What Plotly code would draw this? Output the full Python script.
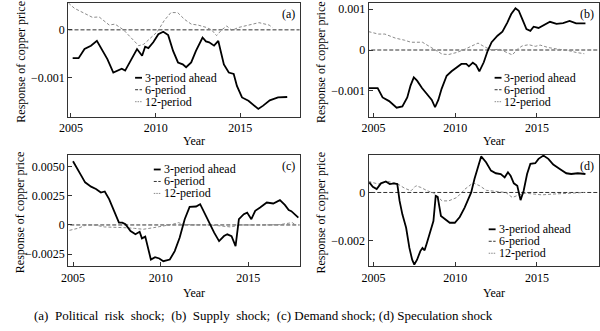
import plotly.graph_objects as go

W, H = 600, 331
FONT = "'Liberation Serif', 'Times New Roman', Times, serif"

# ---------------- data ----------------
# Panel (a) Political risk shock
a3_x = [2005.1, 2005.45, 2005.8, 2006.18, 2006.53, 2006.76, 2007.15, 2007.5, 2007.73, 2008.0, 2008.2,
        2008.5, 2008.9, 2009.2, 2009.38, 2009.57, 2009.86, 2010.16, 2010.45, 2010.74, 2011.03, 2011.32,
        2011.6, 2011.8, 2012.1, 2012.38, 2012.77, 2012.97, 2013.16, 2013.45, 2013.7, 2013.84, 2014.03,
        2014.32, 2014.61, 2014.8, 2015.1, 2015.48, 2016.06, 2016.35, 2016.74, 2017.23, 2017.77]
a3_y = [-0.00059, -0.00059, -0.0004, -0.00033, -0.00023, -0.00037, -0.00061, -0.00089, -0.00085, -0.00081,
        -0.00085, -0.00065, -0.0004, -0.00054, -0.00035, -0.00038, -0.00026, -0.00009, -0.00004, -0.00011,
        -0.00044, -0.00068, -0.00072, -0.00078, -0.00068, -0.00044, -0.00016, -0.00024, -0.00026, -0.00033,
        -0.00023, -0.00044, -0.00072, -0.00089, -0.00092, -0.00117, -0.00141, -0.00148, -0.00165, -0.00158,
        -0.00147, -0.00141, -0.0014]
a12_x = [2004.85, 2005.2, 2006.27, 2006.66, 2007.26, 2007.6, 2008.1, 2008.55, 2009.0, 2009.3, 2009.6,
         2010.1, 2010.5, 2010.9, 2011.3, 2011.7, 2012.1, 2012.5, 2013.0, 2013.3, 2013.6, 2013.9, 2014.2,
         2014.5, 2014.9, 2015.5, 2016.1, 2016.7, 2016.9]
a12_y = [0.00056, 0.00045, 0.00026, 0.00027, 0.0001, 0.00012, 0.0, -0.00016, -0.00033, -0.0003, -0.0002,
         -0.00004, 0.00019, 0.00036, 0.00036, 0.00022, 0.00012, 0.0001, 0.00005, 0.0, -0.00012, 0.0,
         0.00008, -0.00001, 0.00005, 0.0001, 0.00015, 0.0001, 0.00005]

# Panel (b) Supply shock
b3_x = [2004.7, 2005.26, 2005.56, 2005.96, 2006.42, 2006.77, 2007.07, 2007.27, 2007.47, 2007.67, 2007.97,
        2008.27, 2008.57, 2008.77, 2008.97, 2009.17, 2009.48, 2009.78, 2010.08, 2010.38, 2010.68, 2010.84,
        2011.08, 2011.28, 2011.48, 2011.75, 2011.99, 2012.23, 2012.59, 2012.89, 2013.19, 2013.43, 2013.69,
        2013.89, 2014.1, 2014.36, 2014.6, 2014.8, 2015.1, 2015.5, 2015.8, 2016.2, 2016.6, 2017.0, 2017.4,
        2017.97]
b3_y = [-0.00093, -0.00093, -0.00116, -0.00125, -0.00141, -0.00138, -0.00116, -0.00087, -0.00067, -0.00075,
        -0.00093, -0.00107, -0.00122, -0.0014, -0.00122, -0.00095, -0.00063, -0.00052, -0.00042, -0.00034,
        -0.00034, -0.0004, -0.00031, -0.00037, -0.00052, -0.0003, -0.00002, 0.00019, 0.00035, 0.00045,
        0.00067, 0.00088, 0.00102, 0.00096, 0.00076, 0.00051, 0.00047, 0.00057, 0.00054, 0.00062, 0.00069,
        0.00064, 0.00066, 0.00071, 0.00065, 0.00065]
b12_x = [2004.7, 2005.3, 2005.7, 2006.35, 2006.9, 2007.3, 2008.0, 2008.7, 2009.2, 2009.6, 2010.1, 2010.6,
         2011.0, 2011.4, 2011.7, 2012.2, 2012.7, 2013.2, 2013.5, 2013.8, 2014.1, 2014.5, 2014.9, 2015.2,
         2015.7, 2016.3, 2016.9, 2017.4, 2017.9]
b12_y = [0.00045, 0.00039, 0.00039, 0.00029, 0.00024, 0.00019, 0.00019, 0.00002, -0.0001, -0.00011,
         -0.00006, 0.00002, 0.0001, 0.00017, 0.0001, 0.0, 0.00002, -0.00006, -0.00012, 0.00002, 0.0001,
         0.00013, 0.00009, 0.00012, 0.00006, 0.00002, -0.00001, -0.00006, -0.00009]

# Panel (c) Demand shock
c3_x = [2005.0, 2005.28, 2005.47, 2005.69, 2006.03, 2006.31, 2006.59, 2006.81, 2007.06, 2007.34, 2007.62,
        2007.81, 2007.99, 2008.28, 2008.56, 2008.8, 2008.93, 2009.12, 2009.3, 2009.44, 2009.68, 2009.92,
        2010.15, 2010.52, 2010.8, 2011.08, 2011.37, 2011.65, 2012.02, 2012.25, 2012.58, 2012.81, 2013.05,
        2013.33, 2013.61, 2013.8, 2014.04, 2014.27, 2014.46, 2014.74, 2014.93, 2015.17, 2015.39, 2015.67,
        2016.05, 2016.42, 2016.8, 2017.08, 2017.3, 2017.45, 2017.6, 2017.85]
c3_y = [0.00546, 0.00466, 0.00422, 0.00365, 0.00328, 0.00308, 0.00278, 0.00287, 0.00221, 0.00121, 0.0002,
        0.0002, 0.00006, -0.00052, -0.0008, -0.00058, -0.00115, -0.001, -0.00224, -0.00296, -0.00276,
        -0.00287, -0.0031, -0.00296, -0.00224, -0.0011, 0.00049, 0.00155, 0.00158, 0.00178, 0.00078,
        0.00006, -0.00066, -0.00138, -0.00095, -0.0008, -0.00095, -0.00181, 0.00049, 0.00092, 0.00106,
        0.00049, 0.00121, 0.00149, 0.00192, 0.00184, 0.00213, 0.00172, 0.00128, 0.00118, 0.00095, 0.00063]
c12_x = [2004.8, 2005.3, 2005.75, 2006.2, 2006.8, 2007.3, 2007.9, 2008.5, 2009.0, 2009.6, 2010.15, 2010.7,
         2011.0, 2011.3, 2011.85, 2012.5, 2013.2, 2014.0, 2014.5, 2015.2, 2016.0, 2016.8, 2017.5, 2017.7]
c12_y = [-0.00046, -0.00028, 0.0, 0.0, -0.00017, -0.00017, -0.00023, -0.00029, -0.00037, -0.00023,
         -0.00009, 0.00006, 0.0002, 0.00006, 0.0, 0.00003, -0.00005, -0.00017, 0.0, -0.00003, 0.0, 0.00003,
         0.0002, 0.0]

# Panel (d) Speculation shock
d3_x = [2004.75, 2004.96, 2005.2, 2005.46, 2005.76, 2006.0, 2006.26, 2006.46, 2006.6, 2006.77, 2007.0,
        2007.2, 2007.37, 2007.5, 2007.67, 2007.87, 2008.0, 2008.13, 2008.27, 2008.47, 2008.67, 2008.81,
        2008.93, 2009.13, 2009.37, 2009.67, 2009.98, 2010.28, 2010.58, 2010.78, 2010.98, 2011.18, 2011.39,
        2011.59, 2011.89, 2012.19, 2012.49, 2012.79, 2013.03, 2013.23, 2013.39, 2013.59, 2013.8, 2014.0,
        2014.19, 2014.4, 2014.6, 2014.9, 2015.1, 2015.4, 2015.7, 2016.0, 2016.4, 2016.8, 2017.1, 2017.5,
        2017.97]
d3_y = [0.00042, 0.00024, 0.00014, 0.00038, 0.00046, 0.00035, 0.00038, 0.00035, -0.00035, -0.00091,
        -0.00147, -0.00231, -0.0028, -0.003, -0.0028, -0.00244, -0.00231, -0.00241, -0.0021, -0.00161,
        -0.00119, -0.00014, -0.00018, -0.00098, -0.00112, -0.00126, -0.00126, -0.00102, -0.00063, -0.00028,
        0.0, 0.00056, 0.00105, 0.0015, 0.00126, 0.00091, 0.0008, 0.00077, 0.00063, 0.00084, 0.0007, 0.00038,
        0.00028, -0.00032, 0.00007, 0.00077, 0.00119, 0.00122, 0.0014, 0.00154, 0.0014, 0.00116, 0.00098,
        0.0008, 0.00077, 0.0008, 0.00077]
d12_x = [2004.7, 2005.3, 2005.9, 2006.5, 2006.9, 2007.3, 2007.6, 2007.9, 2008.3, 2008.7, 2009.2, 2009.6,
         2010.1, 2010.6, 2011.1, 2011.5, 2011.9, 2012.5, 2013.1, 2013.5, 2013.9, 2014.3, 2014.7, 2015.3,
         2015.9, 2016.7, 2017.3, 2017.9]
d12_y = [0.00046, 0.00035, 0.00046, 0.00035, 0.00018, 0.00007, 0.00028, 0.00021, 0.00007, -0.00003,
         -0.00035, -0.00035, -0.00021, 0.00014, 0.0004, 0.00028, 0.00009, 0.00003, 0.0, -0.00021, -0.0001,
         -0.00003, -0.00007, -0.0001, -0.00007, -0.00003, 0.0, 0.0]

# 6-period responses (flat at zero across the whole window)
six_x = [2004.5, 2019.0]
six_y = [0.0, 0.0]

series_names = ["3-period ahead", "6-period", "12-period"]
panel_labels = ["(a)", "(b)", "(c)", "(d)"]
x_ticks = [2005, 2010, 2015]
x_ticktext = ["2005", "2010", "2015"]
y_ticks = {
    "a": ([0, -0.001], ["0", "\u22120.001"]),
    "b": ([0.001, 0, -0.001], ["0.001", "0", "\u22120.001"]),
    "c": ([0.005, 0.0025, 0, -0.0025], ["0.0050", "0.0025", "0", "\u22120.0025"]),
    "d": ([0, -0.002], ["0", "\u22120.002"]),
}
caption = ("(a)\u00a0 Political\u00a0 risk\u00a0 shock;\u00a0 (b)\u00a0 Supply\u00a0 shock;\u00a0 "
           "(c) Demand shock; (d) Speculation shock")

# ---------------- layout geometry (pixels) ----------------
def fx(p):
    return p / W

def fy(p):
    return 1 - p / H

panels = {
    "a": dict(x=(60, 295), y=(2, 116), xr=[2004.83, 2018.5], yr=[-0.00181, 0.00056]),
    "b": dict(x=(365, 599), y=(2, 116), xr=[2004.7, 2018.8], yr=[-0.00163, 0.00115]),
    "c": dict(x=(60, 295), y=(154, 266), xr=[2004.72, 2017.92], yr=[-0.00353, 0.00603]),
    "d": dict(x=(365, 599), y=(154, 266), xr=[2004.7, 2018.8], yr=[-0.00307, 0.00158]),
}
data = {
    "a": (a3_x, a3_y, a12_x, a12_y),
    "b": (b3_x, b3_y, b12_x, b12_y),
    "c": (c3_x, c3_y, c12_x, c12_y),
    "d": (d3_x, d3_y, d12_x, d12_y),
}

fig = go.Figure()
layout = dict(
    width=W, height=H, margin=dict(l=0, r=0, t=0, b=0),
    paper_bgcolor="white", plot_bgcolor="white", showlegend=False,
    font=dict(family=FONT, size=12, color="black"),
)

SOLID_W = 1.8
annotations = []
shapes = []

for i, key in enumerate(["a", "b", "c", "d"]):
    p = panels[key]
    n = "" if i == 0 else str(i + 1)
    xa, ya = "x" + n, "y" + n
    x3, y3, x12, y12 = data[key]
    fig.add_trace(go.Scatter(x=six_x, y=six_y, mode="lines", xaxis=xa, yaxis=ya,
                             line=dict(color="#333333", width=1, dash="4px,2px"), name=series_names[1]))
    fig.add_trace(go.Scatter(x=x12, y=y12, mode="lines", xaxis=xa, yaxis=ya,
                             line=dict(color="#8a8a8a", width=1, dash="3px,2px"), name=series_names[2]))
    fig.add_trace(go.Scatter(x=x3, y=y3, mode="lines", xaxis=xa, yaxis=ya,
                             line=dict(color="black", width=SOLID_W), name=series_names[0]))
    common = dict(showline=True, linecolor="#333333", linewidth=1, mirror=True, ticks="inside",
                  ticklen=4, tickcolor="#333333", showgrid=False, zeroline=False,
                  tickfont=dict(family=FONT, size=12, color="black"))
    layout["xaxis" + n] = dict(domain=[fx(p["x"][0]), fx(p["x"][1])], range=p["xr"], anchor=ya,
                               tickvals=x_ticks, ticktext=x_ticktext, **common)
    tv, tt = y_ticks[key]
    layout["yaxis" + n] = dict(domain=[fy(p["y"][1]), fy(p["y"][0])], range=p["yr"], anchor=xa,
                               tickvals=tv, ticktext=tt, **common)

    # axis titles
    annotations.append(dict(text="Response of copper price", textangle=-90, xref="paper", yref="paper",
                            x=fx(p["x"][0] - 48), y=fy((p["y"][0] + p["y"][1]) / 2 + 2),
                            showarrow=False, xanchor="center", yanchor="middle",
                            font=dict(family=FONT, size=12)))
    annotations.append(dict(text="Year", xref="paper", yref="paper",
                            x=fx((p["x"][0] + p["x"][1]) / 2 + 10),
                            y=fy(p["y"][1] + 24 if key in "ab" else p["y"][1] + 27),
                            showarrow=False, xanchor="center", yanchor="middle",
                            font=dict(family=FONT, size=12)))
    # panel label
    annotations.append(dict(text=panel_labels[i], xref="paper", yref="paper",
                            x=fx(p["x"][1] - 3), y=fy(p["y"][0] + 11),
                            showarrow=False, xanchor="right", yanchor="middle",
                            font=dict(family=FONT, size=12)))

# legends (custom compact legend rows)
legend_pos = {
    "a": (128, [77, 89, 101]),
    "b": (493, [77, 89, 101]),
    "c": (147, [169, 181, 193]),
    "d": (487, [229, 241, 253]),
}
styles = [dict(color="black", width=SOLID_W, dash="solid"),
          dict(color="#333333", width=1, dash="3px,1.5px"),
          dict(color="#8a8a8a", width=1, dash="1.5px,1px")]
for key, (lx, rows) in legend_pos.items():
    for j, ry in enumerate(rows):
        shapes.append(dict(type="line", xref="paper", yref="paper", x0=fx(lx), x1=fx(lx + 7),
                           y0=fy(ry), y1=fy(ry), line=styles[j]))
        annotations.append(dict(text=series_names[j], xref="paper", yref="paper",
                                x=fx(lx + 9), y=fy(ry), showarrow=False, xanchor="left", yanchor="middle",
                                borderpad=0, font=dict(family=FONT, size=12)))

annotations.append(dict(text=caption, xref="paper", yref="paper", x=fx(258), y=fy(315), showarrow=False,
                        xanchor="center", yanchor="middle", font=dict(family=FONT, size=13)))

layout["annotations"] = annotations
layout["shapes"] = shapes
fig.update_layout(**layout)
fig.write_html("out.html")
